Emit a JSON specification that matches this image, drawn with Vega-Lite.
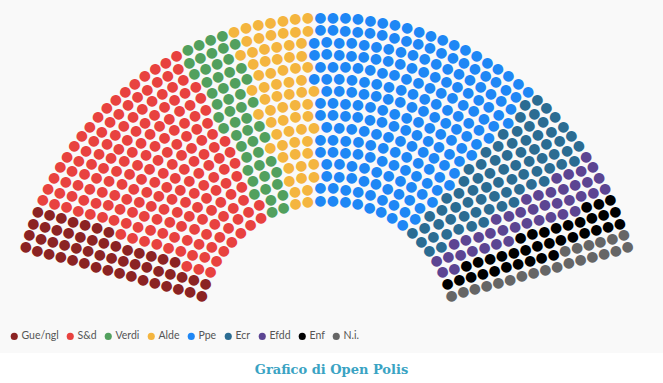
{
"$schema": "https://vega.github.io/schema/vega-lite/v6.json",
"width": 663, "height": 353,
"autosize": {"type": "none"},
"padding": {"left": 0, "top": 0, "right": 0, "bottom": 30},
"background": "#ffffff",
"title": {"text": "Grafico di Open Polis", "orient": "bottom", "anchor": "middle", "frame": "group", "offset": 11, "font": "DejaVu Serif", "fontSize": 13, "fontWeight": "bold", "color": "#3aa3c3"},
"data": {"values": [
{"p":"Gue/ngl","r":0},{"p":"Gue/ngl","r":0},
{"p":"S&d","r":0},{"p":"S&d","r":0},{"p":"S&d","r":0},{"p":"S&d","r":0},{"p":"S&d","r":0},{"p":"S&d","r":0},{"p":"S&d","r":0},
{"p":"Verdi","r":0},{"p":"Verdi","r":0},
{"p":"Alde","r":0},{"p":"Alde","r":0},
{"p":"Ppe","r":0},{"p":"Ppe","r":0},{"p":"Ppe","r":0},{"p":"Ppe","r":0},{"p":"Ppe","r":0},{"p":"Ppe","r":0},{"p":"Ppe","r":0},{"p":"Ppe","r":0},
{"p":"Ecr","r":0},{"p":"Ecr","r":0},{"p":"Ecr","r":0},
{"p":"Efdd","r":0},{"p":"Efdd","r":0},
{"p":"Enf","r":0},
{"p":"N.i.","r":0},
{"p":"Gue/ngl","r":1},{"p":"Gue/ngl","r":1},
{"p":"S&d","r":1},{"p":"S&d","r":1},{"p":"S&d","r":1},{"p":"S&d","r":1},{"p":"S&d","r":1},{"p":"S&d","r":1},{"p":"S&d","r":1},{"p":"S&d","r":1},
{"p":"Verdi","r":1},{"p":"Verdi","r":1},
{"p":"Alde","r":1},{"p":"Alde","r":1},
{"p":"Ppe","r":1},{"p":"Ppe","r":1},{"p":"Ppe","r":1},{"p":"Ppe","r":1},{"p":"Ppe","r":1},{"p":"Ppe","r":1},{"p":"Ppe","r":1},{"p":"Ppe","r":1},{"p":"Ppe","r":1},
{"p":"Ecr","r":1},{"p":"Ecr","r":1},{"p":"Ecr","r":1},
{"p":"Efdd","r":1},{"p":"Efdd","r":1},
{"p":"Enf","r":1},
{"p":"N.i.","r":1},
{"p":"Gue/ngl","r":2},{"p":"Gue/ngl","r":2},
{"p":"S&d","r":2},{"p":"S&d","r":2},{"p":"S&d","r":2},{"p":"S&d","r":2},{"p":"S&d","r":2},{"p":"S&d","r":2},{"p":"S&d","r":2},{"p":"S&d","r":2},
{"p":"Verdi","r":2},{"p":"Verdi","r":2},{"p":"Verdi","r":2},
{"p":"Alde","r":2},{"p":"Alde","r":2},{"p":"Alde","r":2},
{"p":"Ppe","r":2},{"p":"Ppe","r":2},{"p":"Ppe","r":2},{"p":"Ppe","r":2},{"p":"Ppe","r":2},{"p":"Ppe","r":2},{"p":"Ppe","r":2},{"p":"Ppe","r":2},{"p":"Ppe","r":2},
{"p":"Ecr","r":2},{"p":"Ecr","r":2},{"p":"Ecr","r":2},
{"p":"Efdd","r":2},{"p":"Efdd","r":2},
{"p":"Enf","r":2},{"p":"Enf","r":2},
{"p":"N.i.","r":2},
{"p":"Gue/ngl","r":3},{"p":"Gue/ngl","r":3},{"p":"Gue/ngl","r":3},
{"p":"S&d","r":3},{"p":"S&d","r":3},{"p":"S&d","r":3},{"p":"S&d","r":3},{"p":"S&d","r":3},{"p":"S&d","r":3},{"p":"S&d","r":3},{"p":"S&d","r":3},
{"p":"Verdi","r":3},{"p":"Verdi","r":3},{"p":"Verdi","r":3},
{"p":"Alde","r":3},{"p":"Alde","r":3},{"p":"Alde","r":3},
{"p":"Ppe","r":3},{"p":"Ppe","r":3},{"p":"Ppe","r":3},{"p":"Ppe","r":3},{"p":"Ppe","r":3},{"p":"Ppe","r":3},{"p":"Ppe","r":3},{"p":"Ppe","r":3},{"p":"Ppe","r":3},{"p":"Ppe","r":3},
{"p":"Ecr","r":3},{"p":"Ecr","r":3},{"p":"Ecr","r":3},
{"p":"Efdd","r":3},{"p":"Efdd","r":3},
{"p":"Enf","r":3},{"p":"Enf","r":3},
{"p":"N.i.","r":3},
{"p":"Gue/ngl","r":4},{"p":"Gue/ngl","r":4},{"p":"Gue/ngl","r":4},
{"p":"S&d","r":4},{"p":"S&d","r":4},{"p":"S&d","r":4},{"p":"S&d","r":4},{"p":"S&d","r":4},{"p":"S&d","r":4},{"p":"S&d","r":4},{"p":"S&d","r":4},{"p":"S&d","r":4},
{"p":"Verdi","r":4},{"p":"Verdi","r":4},{"p":"Verdi","r":4},
{"p":"Alde","r":4},{"p":"Alde","r":4},{"p":"Alde","r":4},
{"p":"Ppe","r":4},{"p":"Ppe","r":4},{"p":"Ppe","r":4},{"p":"Ppe","r":4},{"p":"Ppe","r":4},{"p":"Ppe","r":4},{"p":"Ppe","r":4},{"p":"Ppe","r":4},{"p":"Ppe","r":4},{"p":"Ppe","r":4},{"p":"Ppe","r":4},
{"p":"Ecr","r":4},{"p":"Ecr","r":4},{"p":"Ecr","r":4},{"p":"Ecr","r":4},
{"p":"Efdd","r":4},{"p":"Efdd","r":4},
{"p":"Enf","r":4},{"p":"Enf","r":4},
{"p":"N.i.","r":4},
{"p":"Gue/ngl","r":5},{"p":"Gue/ngl","r":5},{"p":"Gue/ngl","r":5},
{"p":"S&d","r":5},{"p":"S&d","r":5},{"p":"S&d","r":5},{"p":"S&d","r":5},{"p":"S&d","r":5},{"p":"S&d","r":5},{"p":"S&d","r":5},{"p":"S&d","r":5},{"p":"S&d","r":5},{"p":"S&d","r":5},
{"p":"Verdi","r":5},{"p":"Verdi","r":5},
{"p":"Alde","r":5},{"p":"Alde","r":5},{"p":"Alde","r":5},{"p":"Alde","r":5},
{"p":"Ppe","r":5},{"p":"Ppe","r":5},{"p":"Ppe","r":5},{"p":"Ppe","r":5},{"p":"Ppe","r":5},{"p":"Ppe","r":5},{"p":"Ppe","r":5},{"p":"Ppe","r":5},{"p":"Ppe","r":5},{"p":"Ppe","r":5},{"p":"Ppe","r":5},{"p":"Ppe","r":5},
{"p":"Ecr","r":5},{"p":"Ecr","r":5},{"p":"Ecr","r":5},{"p":"Ecr","r":5},
{"p":"Efdd","r":5},{"p":"Efdd","r":5},
{"p":"Enf","r":5},{"p":"Enf","r":5},
{"p":"N.i.","r":5},
{"p":"Gue/ngl","r":6},{"p":"Gue/ngl","r":6},{"p":"Gue/ngl","r":6},
{"p":"S&d","r":6},{"p":"S&d","r":6},{"p":"S&d","r":6},{"p":"S&d","r":6},{"p":"S&d","r":6},{"p":"S&d","r":6},{"p":"S&d","r":6},{"p":"S&d","r":6},{"p":"S&d","r":6},{"p":"S&d","r":6},{"p":"S&d","r":6},
{"p":"Verdi","r":6},{"p":"Verdi","r":6},{"p":"Verdi","r":6},
{"p":"Alde","r":6},{"p":"Alde","r":6},{"p":"Alde","r":6},{"p":"Alde","r":6},
{"p":"Ppe","r":6},{"p":"Ppe","r":6},{"p":"Ppe","r":6},{"p":"Ppe","r":6},{"p":"Ppe","r":6},{"p":"Ppe","r":6},{"p":"Ppe","r":6},{"p":"Ppe","r":6},{"p":"Ppe","r":6},{"p":"Ppe","r":6},{"p":"Ppe","r":6},{"p":"Ppe","r":6},
{"p":"Ecr","r":6},{"p":"Ecr","r":6},{"p":"Ecr","r":6},{"p":"Ecr","r":6},
{"p":"Efdd","r":6},{"p":"Efdd","r":6},{"p":"Efdd","r":6},
{"p":"Enf","r":6},{"p":"Enf","r":6},
{"p":"N.i.","r":6},
{"p":"Gue/ngl","r":7},{"p":"Gue/ngl","r":7},{"p":"Gue/ngl","r":7},
{"p":"S&d","r":7},{"p":"S&d","r":7},{"p":"S&d","r":7},{"p":"S&d","r":7},{"p":"S&d","r":7},{"p":"S&d","r":7},{"p":"S&d","r":7},{"p":"S&d","r":7},{"p":"S&d","r":7},{"p":"S&d","r":7},{"p":"S&d","r":7},{"p":"S&d","r":7},
{"p":"Verdi","r":7},{"p":"Verdi","r":7},{"p":"Verdi","r":7},
{"p":"Alde","r":7},{"p":"Alde","r":7},{"p":"Alde","r":7},{"p":"Alde","r":7},
{"p":"Ppe","r":7},{"p":"Ppe","r":7},{"p":"Ppe","r":7},{"p":"Ppe","r":7},{"p":"Ppe","r":7},{"p":"Ppe","r":7},{"p":"Ppe","r":7},{"p":"Ppe","r":7},{"p":"Ppe","r":7},{"p":"Ppe","r":7},{"p":"Ppe","r":7},{"p":"Ppe","r":7},{"p":"Ppe","r":7},
{"p":"Ecr","r":7},{"p":"Ecr","r":7},{"p":"Ecr","r":7},{"p":"Ecr","r":7},{"p":"Ecr","r":7},
{"p":"Efdd","r":7},{"p":"Efdd","r":7},
{"p":"Enf","r":7},{"p":"Enf","r":7},{"p":"Enf","r":7},
{"p":"N.i.","r":7},
{"p":"Gue/ngl","r":8},{"p":"Gue/ngl","r":8},{"p":"Gue/ngl","r":8},
{"p":"S&d","r":8},{"p":"S&d","r":8},{"p":"S&d","r":8},{"p":"S&d","r":8},{"p":"S&d","r":8},{"p":"S&d","r":8},{"p":"S&d","r":8},{"p":"S&d","r":8},{"p":"S&d","r":8},{"p":"S&d","r":8},{"p":"S&d","r":8},{"p":"S&d","r":8},
{"p":"Verdi","r":8},{"p":"Verdi","r":8},{"p":"Verdi","r":8},
{"p":"Alde","r":8},{"p":"Alde","r":8},{"p":"Alde","r":8},{"p":"Alde","r":8},{"p":"Alde","r":8},
{"p":"Ppe","r":8},{"p":"Ppe","r":8},{"p":"Ppe","r":8},{"p":"Ppe","r":8},{"p":"Ppe","r":8},{"p":"Ppe","r":8},{"p":"Ppe","r":8},{"p":"Ppe","r":8},{"p":"Ppe","r":8},{"p":"Ppe","r":8},{"p":"Ppe","r":8},{"p":"Ppe","r":8},{"p":"Ppe","r":8},{"p":"Ppe","r":8},
{"p":"Ecr","r":8},{"p":"Ecr","r":8},{"p":"Ecr","r":8},{"p":"Ecr","r":8},{"p":"Ecr","r":8},
{"p":"Efdd","r":8},{"p":"Efdd","r":8},
{"p":"Enf","r":8},{"p":"Enf","r":8},{"p":"Enf","r":8},
{"p":"N.i.","r":8},
{"p":"Gue/ngl","r":9},{"p":"Gue/ngl","r":9},{"p":"Gue/ngl","r":9},{"p":"Gue/ngl","r":9},
{"p":"S&d","r":9},{"p":"S&d","r":9},{"p":"S&d","r":9},{"p":"S&d","r":9},{"p":"S&d","r":9},{"p":"S&d","r":9},{"p":"S&d","r":9},{"p":"S&d","r":9},{"p":"S&d","r":9},{"p":"S&d","r":9},{"p":"S&d","r":9},{"p":"S&d","r":9},
{"p":"Verdi","r":9},{"p":"Verdi","r":9},{"p":"Verdi","r":9},{"p":"Verdi","r":9},
{"p":"Alde","r":9},{"p":"Alde","r":9},{"p":"Alde","r":9},{"p":"Alde","r":9},{"p":"Alde","r":9},
{"p":"Ppe","r":9},{"p":"Ppe","r":9},{"p":"Ppe","r":9},{"p":"Ppe","r":9},{"p":"Ppe","r":9},{"p":"Ppe","r":9},{"p":"Ppe","r":9},{"p":"Ppe","r":9},{"p":"Ppe","r":9},{"p":"Ppe","r":9},{"p":"Ppe","r":9},{"p":"Ppe","r":9},{"p":"Ppe","r":9},{"p":"Ppe","r":9},
{"p":"Ecr","r":9},{"p":"Ecr","r":9},{"p":"Ecr","r":9},{"p":"Ecr","r":9},{"p":"Ecr","r":9},
{"p":"Efdd","r":9},{"p":"Efdd","r":9},{"p":"Efdd","r":9},
{"p":"Enf","r":9},{"p":"Enf","r":9},{"p":"Enf","r":9},
{"p":"N.i.","r":9},
{"p":"Gue/ngl","r":10},{"p":"Gue/ngl","r":10},{"p":"Gue/ngl","r":10},{"p":"Gue/ngl","r":10},
{"p":"S&d","r":10},{"p":"S&d","r":10},{"p":"S&d","r":10},{"p":"S&d","r":10},{"p":"S&d","r":10},{"p":"S&d","r":10},{"p":"S&d","r":10},{"p":"S&d","r":10},{"p":"S&d","r":10},{"p":"S&d","r":10},{"p":"S&d","r":10},{"p":"S&d","r":10},{"p":"S&d","r":10},
{"p":"Verdi","r":10},{"p":"Verdi","r":10},{"p":"Verdi","r":10},
{"p":"Alde","r":10},{"p":"Alde","r":10},{"p":"Alde","r":10},{"p":"Alde","r":10},{"p":"Alde","r":10},
{"p":"Ppe","r":10},{"p":"Ppe","r":10},{"p":"Ppe","r":10},{"p":"Ppe","r":10},{"p":"Ppe","r":10},{"p":"Ppe","r":10},{"p":"Ppe","r":10},{"p":"Ppe","r":10},{"p":"Ppe","r":10},{"p":"Ppe","r":10},{"p":"Ppe","r":10},{"p":"Ppe","r":10},{"p":"Ppe","r":10},{"p":"Ppe","r":10},{"p":"Ppe","r":10},{"p":"Ppe","r":10},
{"p":"Ecr","r":10},{"p":"Ecr","r":10},{"p":"Ecr","r":10},{"p":"Ecr","r":10},{"p":"Ecr","r":10},
{"p":"Efdd","r":10},{"p":"Efdd","r":10},{"p":"Efdd","r":10},
{"p":"Enf","r":10},{"p":"Enf","r":10},
{"p":"N.i.","r":10},{"p":"N.i.","r":10},
{"p":"Gue/ngl","r":11},{"p":"Gue/ngl","r":11},{"p":"Gue/ngl","r":11},{"p":"Gue/ngl","r":11},
{"p":"S&d","r":11},{"p":"S&d","r":11},{"p":"S&d","r":11},{"p":"S&d","r":11},{"p":"S&d","r":11},{"p":"S&d","r":11},{"p":"S&d","r":11},{"p":"S&d","r":11},{"p":"S&d","r":11},{"p":"S&d","r":11},{"p":"S&d","r":11},{"p":"S&d","r":11},{"p":"S&d","r":11},{"p":"S&d","r":11},
{"p":"Verdi","r":11},{"p":"Verdi","r":11},{"p":"Verdi","r":11},{"p":"Verdi","r":11},
{"p":"Alde","r":11},{"p":"Alde","r":11},{"p":"Alde","r":11},{"p":"Alde","r":11},{"p":"Alde","r":11},
{"p":"Ppe","r":11},{"p":"Ppe","r":11},{"p":"Ppe","r":11},{"p":"Ppe","r":11},{"p":"Ppe","r":11},{"p":"Ppe","r":11},{"p":"Ppe","r":11},{"p":"Ppe","r":11},{"p":"Ppe","r":11},{"p":"Ppe","r":11},{"p":"Ppe","r":11},{"p":"Ppe","r":11},{"p":"Ppe","r":11},{"p":"Ppe","r":11},{"p":"Ppe","r":11},{"p":"Ppe","r":11},
{"p":"Ecr","r":11},{"p":"Ecr","r":11},{"p":"Ecr","r":11},{"p":"Ecr","r":11},{"p":"Ecr","r":11},{"p":"Ecr","r":11},
{"p":"Efdd","r":11},{"p":"Efdd","r":11},{"p":"Efdd","r":11},
{"p":"Enf","r":11},{"p":"Enf","r":11},
{"p":"N.i.","r":11},{"p":"N.i.","r":11},
{"p":"Gue/ngl","r":12},{"p":"Gue/ngl","r":12},{"p":"Gue/ngl","r":12},{"p":"Gue/ngl","r":12},
{"p":"S&d","r":12},{"p":"S&d","r":12},{"p":"S&d","r":12},{"p":"S&d","r":12},{"p":"S&d","r":12},{"p":"S&d","r":12},{"p":"S&d","r":12},{"p":"S&d","r":12},{"p":"S&d","r":12},{"p":"S&d","r":12},{"p":"S&d","r":12},{"p":"S&d","r":12},{"p":"S&d","r":12},{"p":"S&d","r":12},{"p":"S&d","r":12},
{"p":"Verdi","r":12},{"p":"Verdi","r":12},{"p":"Verdi","r":12},{"p":"Verdi","r":12},
{"p":"Alde","r":12},{"p":"Alde","r":12},{"p":"Alde","r":12},{"p":"Alde","r":12},{"p":"Alde","r":12},
{"p":"Ppe","r":12},{"p":"Ppe","r":12},{"p":"Ppe","r":12},{"p":"Ppe","r":12},{"p":"Ppe","r":12},{"p":"Ppe","r":12},{"p":"Ppe","r":12},{"p":"Ppe","r":12},{"p":"Ppe","r":12},{"p":"Ppe","r":12},{"p":"Ppe","r":12},{"p":"Ppe","r":12},{"p":"Ppe","r":12},{"p":"Ppe","r":12},{"p":"Ppe","r":12},{"p":"Ppe","r":12},{"p":"Ppe","r":12},{"p":"Ppe","r":12},
{"p":"Ecr","r":12},{"p":"Ecr","r":12},{"p":"Ecr","r":12},{"p":"Ecr","r":12},{"p":"Ecr","r":12},
{"p":"Efdd","r":12},{"p":"Efdd","r":12},{"p":"Efdd","r":12},{"p":"Efdd","r":12},
{"p":"Enf","r":12},{"p":"Enf","r":12},
{"p":"N.i.","r":12},{"p":"N.i.","r":12},
{"p":"Gue/ngl","r":13},{"p":"Gue/ngl","r":13},{"p":"Gue/ngl","r":13},{"p":"Gue/ngl","r":13},
{"p":"S&d","r":13},{"p":"S&d","r":13},{"p":"S&d","r":13},{"p":"S&d","r":13},{"p":"S&d","r":13},{"p":"S&d","r":13},{"p":"S&d","r":13},{"p":"S&d","r":13},{"p":"S&d","r":13},{"p":"S&d","r":13},{"p":"S&d","r":13},{"p":"S&d","r":13},{"p":"S&d","r":13},{"p":"S&d","r":13},{"p":"S&d","r":13},
{"p":"Verdi","r":13},{"p":"Verdi","r":13},{"p":"Verdi","r":13},{"p":"Verdi","r":13},
{"p":"Alde","r":13},{"p":"Alde","r":13},{"p":"Alde","r":13},{"p":"Alde","r":13},{"p":"Alde","r":13},{"p":"Alde","r":13},
{"p":"Ppe","r":13},{"p":"Ppe","r":13},{"p":"Ppe","r":13},{"p":"Ppe","r":13},{"p":"Ppe","r":13},{"p":"Ppe","r":13},{"p":"Ppe","r":13},{"p":"Ppe","r":13},{"p":"Ppe","r":13},{"p":"Ppe","r":13},{"p":"Ppe","r":13},{"p":"Ppe","r":13},{"p":"Ppe","r":13},{"p":"Ppe","r":13},{"p":"Ppe","r":13},{"p":"Ppe","r":13},{"p":"Ppe","r":13},{"p":"Ppe","r":13},
{"p":"Ecr","r":13},{"p":"Ecr","r":13},{"p":"Ecr","r":13},{"p":"Ecr","r":13},{"p":"Ecr","r":13},{"p":"Ecr","r":13},
{"p":"Efdd","r":13},{"p":"Efdd","r":13},{"p":"Efdd","r":13},
{"p":"Enf","r":13},{"p":"Enf","r":13},{"p":"Enf","r":13},
{"p":"N.i.","r":13},{"p":"N.i.","r":13},
{"p":"Gue/ngl","r":14},{"p":"Gue/ngl","r":14},{"p":"Gue/ngl","r":14},{"p":"Gue/ngl","r":14},
{"p":"S&d","r":14},{"p":"S&d","r":14},{"p":"S&d","r":14},{"p":"S&d","r":14},{"p":"S&d","r":14},{"p":"S&d","r":14},{"p":"S&d","r":14},{"p":"S&d","r":14},{"p":"S&d","r":14},{"p":"S&d","r":14},{"p":"S&d","r":14},{"p":"S&d","r":14},{"p":"S&d","r":14},{"p":"S&d","r":14},{"p":"S&d","r":14},{"p":"S&d","r":14},
{"p":"Verdi","r":14},{"p":"Verdi","r":14},{"p":"Verdi","r":14},{"p":"Verdi","r":14},{"p":"Verdi","r":14},
{"p":"Alde","r":14},{"p":"Alde","r":14},{"p":"Alde","r":14},{"p":"Alde","r":14},{"p":"Alde","r":14},{"p":"Alde","r":14},
{"p":"Ppe","r":14},{"p":"Ppe","r":14},{"p":"Ppe","r":14},{"p":"Ppe","r":14},{"p":"Ppe","r":14},{"p":"Ppe","r":14},{"p":"Ppe","r":14},{"p":"Ppe","r":14},{"p":"Ppe","r":14},{"p":"Ppe","r":14},{"p":"Ppe","r":14},{"p":"Ppe","r":14},{"p":"Ppe","r":14},{"p":"Ppe","r":14},{"p":"Ppe","r":14},{"p":"Ppe","r":14},{"p":"Ppe","r":14},{"p":"Ppe","r":14},
{"p":"Ecr","r":14},{"p":"Ecr","r":14},{"p":"Ecr","r":14},{"p":"Ecr","r":14},{"p":"Ecr","r":14},{"p":"Ecr","r":14},{"p":"Ecr","r":14},
{"p":"Efdd","r":14},{"p":"Efdd","r":14},{"p":"Efdd","r":14},
{"p":"Enf","r":14},{"p":"Enf","r":14},{"p":"Enf","r":14},
{"p":"N.i.","r":14},{"p":"N.i.","r":14},
{"p":"Gue/ngl","r":15},{"p":"Gue/ngl","r":15},{"p":"Gue/ngl","r":15},{"p":"Gue/ngl","r":15},
{"p":"S&d","r":15},{"p":"S&d","r":15},{"p":"S&d","r":15},{"p":"S&d","r":15},{"p":"S&d","r":15},{"p":"S&d","r":15},{"p":"S&d","r":15},{"p":"S&d","r":15},{"p":"S&d","r":15},{"p":"S&d","r":15},{"p":"S&d","r":15},{"p":"S&d","r":15},{"p":"S&d","r":15},{"p":"S&d","r":15},{"p":"S&d","r":15},{"p":"S&d","r":15},{"p":"S&d","r":15},
{"p":"Verdi","r":15},{"p":"Verdi","r":15},{"p":"Verdi","r":15},{"p":"Verdi","r":15},
{"p":"Alde","r":15},{"p":"Alde","r":15},{"p":"Alde","r":15},{"p":"Alde","r":15},{"p":"Alde","r":15},{"p":"Alde","r":15},{"p":"Alde","r":15},
{"p":"Ppe","r":15},{"p":"Ppe","r":15},{"p":"Ppe","r":15},{"p":"Ppe","r":15},{"p":"Ppe","r":15},{"p":"Ppe","r":15},{"p":"Ppe","r":15},{"p":"Ppe","r":15},{"p":"Ppe","r":15},{"p":"Ppe","r":15},{"p":"Ppe","r":15},{"p":"Ppe","r":15},{"p":"Ppe","r":15},{"p":"Ppe","r":15},{"p":"Ppe","r":15},{"p":"Ppe","r":15},{"p":"Ppe","r":15},{"p":"Ppe","r":15},{"p":"Ppe","r":15},
{"p":"Ecr","r":15},{"p":"Ecr","r":15},{"p":"Ecr","r":15},{"p":"Ecr","r":15},{"p":"Ecr","r":15},{"p":"Ecr","r":15},
{"p":"Efdd","r":15},{"p":"Efdd","r":15},{"p":"Efdd","r":15},{"p":"Efdd","r":15},
{"p":"Enf","r":15},{"p":"Enf","r":15},{"p":"Enf","r":15},
{"p":"N.i.","r":15},{"p":"N.i.","r":15}
]},
"transform": [{"window": [{"op": "row_number", "as": "k"}], "groupby": ["r"]}],
"encoding": {
  "x": {"datum": 0, "type": "quantitative", "scale": {"domain": [-0.971, 1], "nice": false, "zero": false}, "axis": null},
  "y": {"datum": 0, "type": "quantitative", "scale": {"domain": [-0.07, 1], "nice": false, "zero": false}, "axis": null},
  "radius": {"field": "r", "type": "quantitative", "scale": {"type": "linear", "domain": [0, 15], "range": [129.5, 312], "zero": false, "nice": false}},
  "color": {"field": "p", "type": "nominal",
    "scale": {"domain": ["Gue/ngl", "S&d", "Verdi", "Alde", "Ppe", "Ecr", "Efdd", "Enf", "N.i."],
              "range": ["#8b2323", "#e8423f", "#52a05e", "#f4b53f", "#1e87f5", "#2b6c92", "#5c4592", "#000000", "#666666"]},
    "legend": {"title": null, "orient": "none", "legendX": 9, "legendY": 331, "direction": "horizontal", "symbolType": "circle", "symbolSize": 50, "symbolStrokeWidth": 0, "symbolOpacity": 1, "labelFont": "Lato", "labelFontSize": 10.5, "labelColor": "#555555", "labelOffset": 2, "columnPadding": 6}}
},
"layer": [
  {"transform": [{"filter": "datum.r == 0"}], "mark": {"type": "text", "text": "●"}, "encoding": {"theta": {"field": "k", "type": "quantitative", "stack": null, "scale": {"domain": [1, 28], "range": [-1.303, 1.303], "zero": false, "nice": false}}}},
  {"transform": [{"filter": "datum.r == 1"}], "mark": {"type": "text", "text": "●"}, "encoding": {"theta": {"field": "k", "type": "quantitative", "stack": null, "scale": {"domain": [1, 30], "range": [-1.303, 1.303], "zero": false, "nice": false}}}},
  {"transform": [{"filter": "datum.r == 2"}], "mark": {"type": "text", "text": "●"}, "encoding": {"theta": {"field": "k", "type": "quantitative", "stack": null, "scale": {"domain": [1, 33], "range": [-1.303, 1.303], "zero": false, "nice": false}}}},
  {"transform": [{"filter": "datum.r == 3"}], "mark": {"type": "text", "text": "●"}, "encoding": {"theta": {"field": "k", "type": "quantitative", "stack": null, "scale": {"domain": [1, 35], "range": [-1.303, 1.303], "zero": false, "nice": false}}}},
  {"transform": [{"filter": "datum.r == 4"}], "mark": {"type": "text", "text": "●"}, "encoding": {"theta": {"field": "k", "type": "quantitative", "stack": null, "scale": {"domain": [1, 38], "range": [-1.303, 1.303], "zero": false, "nice": false}}}},
  {"transform": [{"filter": "datum.r == 5"}], "mark": {"type": "text", "text": "●"}, "encoding": {"theta": {"field": "k", "type": "quantitative", "stack": null, "scale": {"domain": [1, 40], "range": [-1.303, 1.303], "zero": false, "nice": false}}}},
  {"transform": [{"filter": "datum.r == 6"}], "mark": {"type": "text", "text": "●"}, "encoding": {"theta": {"field": "k", "type": "quantitative", "stack": null, "scale": {"domain": [1, 43], "range": [-1.303, 1.303], "zero": false, "nice": false}}}},
  {"transform": [{"filter": "datum.r == 7"}], "mark": {"type": "text", "text": "●"}, "encoding": {"theta": {"field": "k", "type": "quantitative", "stack": null, "scale": {"domain": [1, 46], "range": [-1.303, 1.303], "zero": false, "nice": false}}}},
  {"transform": [{"filter": "datum.r == 8"}], "mark": {"type": "text", "text": "●"}, "encoding": {"theta": {"field": "k", "type": "quantitative", "stack": null, "scale": {"domain": [1, 48], "range": [-1.303, 1.303], "zero": false, "nice": false}}}},
  {"transform": [{"filter": "datum.r == 9"}], "mark": {"type": "text", "text": "●"}, "encoding": {"theta": {"field": "k", "type": "quantitative", "stack": null, "scale": {"domain": [1, 51], "range": [-1.303, 1.303], "zero": false, "nice": false}}}},
  {"transform": [{"filter": "datum.r == 10"}], "mark": {"type": "text", "text": "●"}, "encoding": {"theta": {"field": "k", "type": "quantitative", "stack": null, "scale": {"domain": [1, 53], "range": [-1.303, 1.303], "zero": false, "nice": false}}}},
  {"transform": [{"filter": "datum.r == 11"}], "mark": {"type": "text", "text": "●"}, "encoding": {"theta": {"field": "k", "type": "quantitative", "stack": null, "scale": {"domain": [1, 56], "range": [-1.303, 1.303], "zero": false, "nice": false}}}},
  {"transform": [{"filter": "datum.r == 12"}], "mark": {"type": "text", "text": "●"}, "encoding": {"theta": {"field": "k", "type": "quantitative", "stack": null, "scale": {"domain": [1, 59], "range": [-1.303, 1.303], "zero": false, "nice": false}}}},
  {"transform": [{"filter": "datum.r == 13"}], "mark": {"type": "text", "text": "●"}, "encoding": {"theta": {"field": "k", "type": "quantitative", "stack": null, "scale": {"domain": [1, 61], "range": [-1.303, 1.303], "zero": false, "nice": false}}}},
  {"transform": [{"filter": "datum.r == 14"}], "mark": {"type": "text", "text": "●"}, "encoding": {"theta": {"field": "k", "type": "quantitative", "stack": null, "scale": {"domain": [1, 64], "range": [-1.303, 1.303], "zero": false, "nice": false}}}},
  {"transform": [{"filter": "datum.r == 15"}], "mark": {"type": "text", "text": "●"}, "encoding": {"theta": {"field": "k", "type": "quantitative", "stack": null, "scale": {"domain": [1, 66], "range": [-1.303, 1.303], "zero": false, "nice": false}}}}
],
"resolve": {"scale": {"theta": "independent"}},
"config": {
  "view": {"fill": "#f9f9f9", "stroke": null},
  "text": {"font": "DejaVu Sans", "fontSize": 14, "align": "center", "baseline": "middle"}
}
}
